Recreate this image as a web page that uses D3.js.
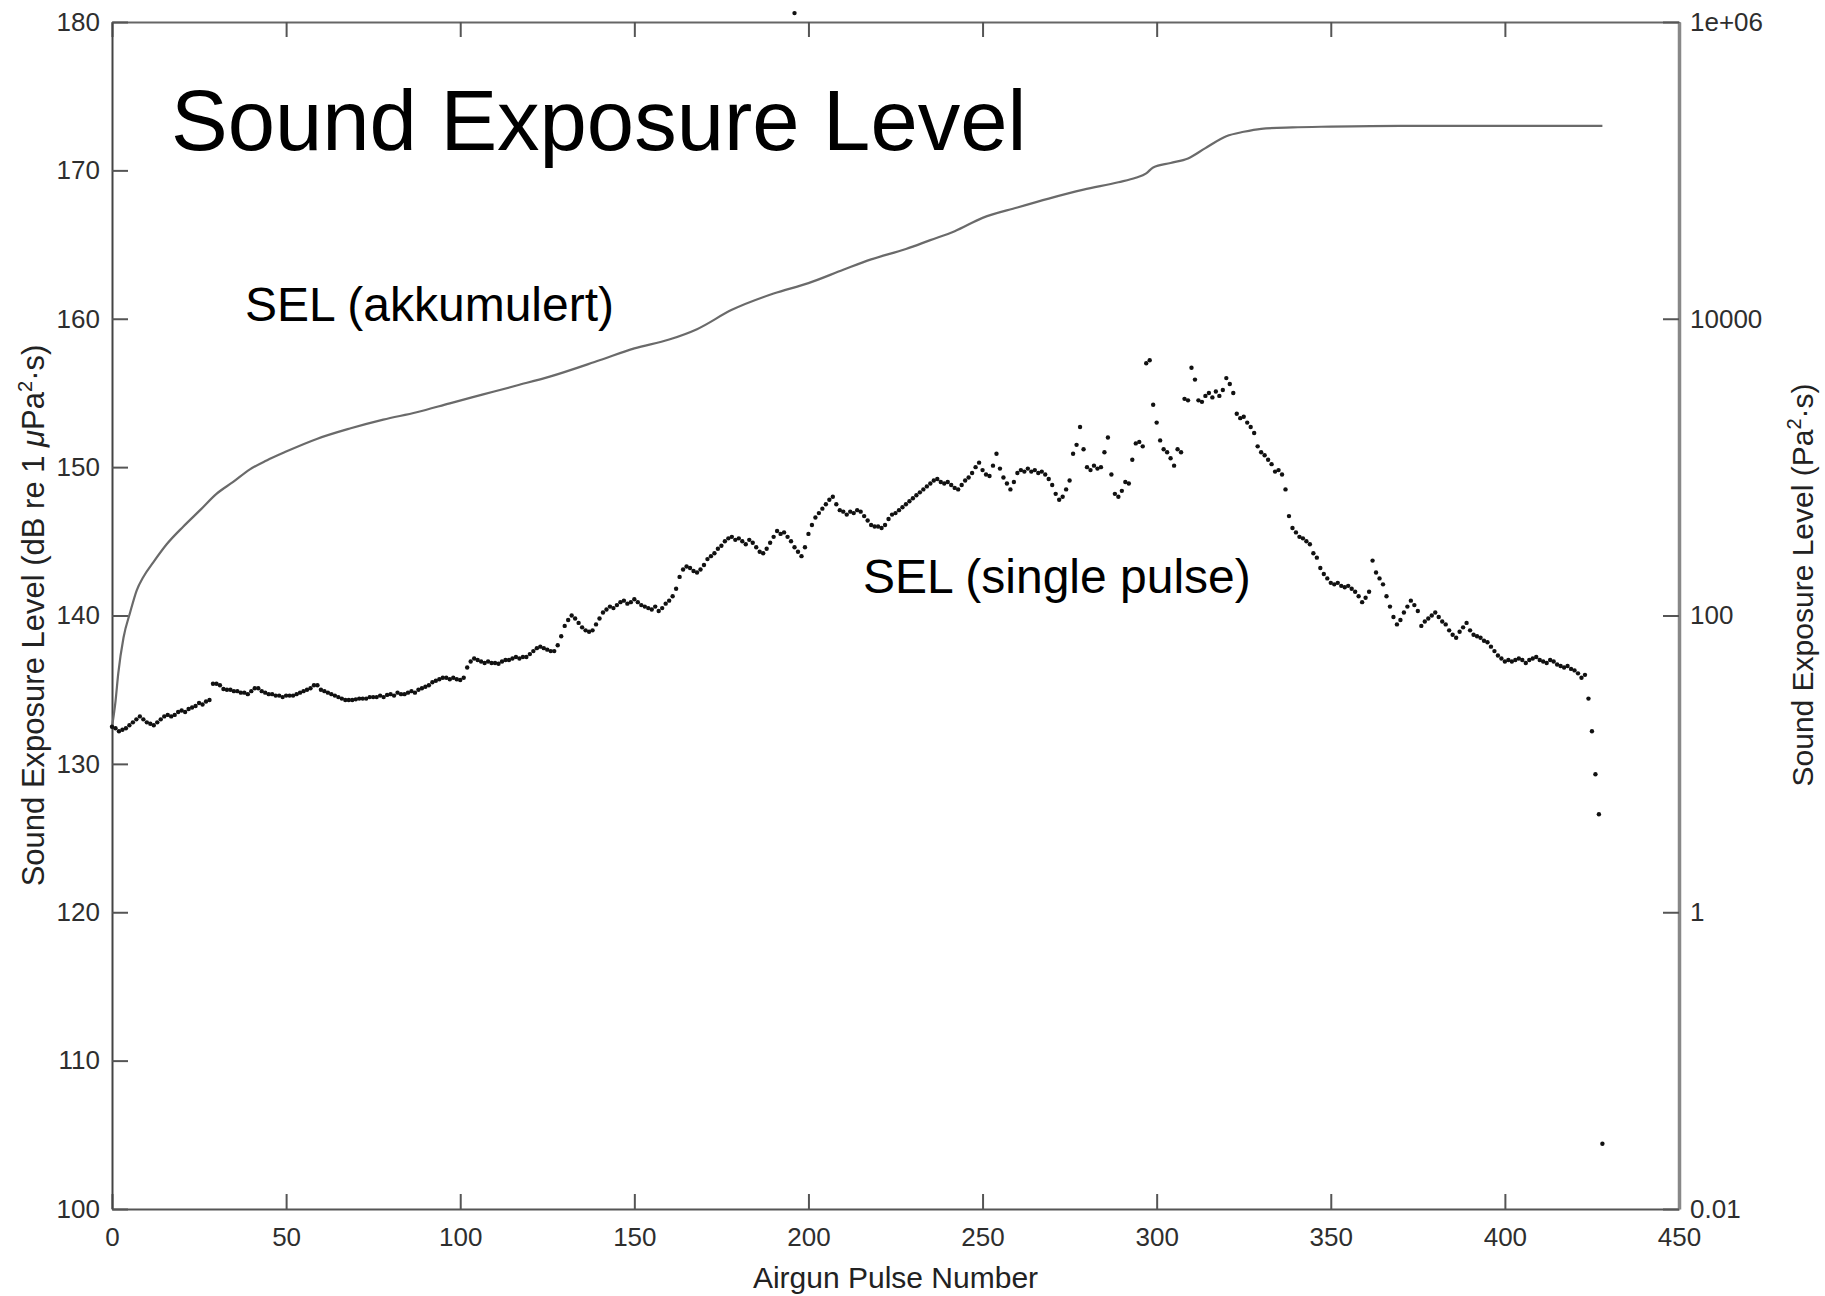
<!DOCTYPE html>
<html>
<head>
<meta charset="utf-8">
<script src="https://cdn.jsdelivr.net/npm/d3@7"></script>
<style>
  html, body { margin: 0; padding: 0; background: #fff; }
  svg { display: block; font-family: "Liberation Sans", Arial, sans-serif; }
</style>
</head>
<body>
<svg id="chart" width="1825" height="1296"></svg>
<script>
// ---------------- DATA ----------------
const xTicks = [0, 50, 100, 150, 200, 250, 300, 350, 400, 450];
const yTicks = [100, 110, 120, 130, 140, 150, 160, 170, 180];
const yRightTicks = [0.01, 1, 100, 10000, 1e6];
const yRightLabels = ["0.01", "1", "100", "10000", "1e+06"];

// single-pulse SEL, one value per airgun pulse (pulse number = index)
const singleSEL = [
  132.5,132.4,132.2,132.3,132.4,132.6,132.8,133.0,133.2,133.0,
  132.8,132.7,132.6,132.8,133.0,133.2,133.3,133.2,133.3,133.5,
  133.6,133.5,133.7,133.8,133.9,134.1,134.0,134.2,134.3,135.4,
  135.4,135.3,135.05,135.0,135.0,134.9,134.9,134.8,134.8,134.7,
  134.9,135.1,135.1,134.9,134.8,134.7,134.7,134.6,134.6,134.5,
  134.6,134.6,134.6,134.7,134.8,134.9,135.0,135.1,135.3,135.3,
  135.0,134.9,134.8,134.7,134.6,134.5,134.4,134.3,134.3,134.3,
  134.35,134.4,134.4,134.4,134.5,134.5,134.5,134.6,134.5,134.65,
  134.7,134.6,134.8,134.7,134.7,134.8,134.9,134.8,135.0,135.1,
  135.2,135.3,135.5,135.6,135.7,135.8,135.8,135.7,135.8,135.7,
  135.65,135.8,136.5,136.9,137.1,137.0,136.9,136.8,136.9,136.8,
  136.8,136.75,136.9,137.0,137.0,137.1,137.2,137.1,137.2,137.2,
  137.4,137.6,137.8,137.9,137.8,137.7,137.6,137.6,138.0,138.6,
  139.3,139.7,140.0,139.8,139.5,139.2,139.0,138.9,139.0,139.4,
  139.8,140.2,140.4,140.6,140.5,140.7,140.9,141.0,140.8,140.9,
  141.1,140.9,140.7,140.6,140.5,140.4,140.6,140.3,140.5,140.8,
  141.0,141.3,141.8,142.6,143.1,143.3,143.2,143.0,142.9,143.1,
  143.4,143.8,144.0,144.2,144.5,144.7,145.0,145.2,145.3,145.1,
  145.2,145.0,144.8,145.1,144.9,144.6,144.3,144.2,144.5,144.9,
  145.3,145.7,145.5,145.6,145.3,145.0,144.6,144.3,144.0,144.6,
  145.5,146.1,146.6,146.9,147.2,147.5,147.8,148.0,147.5,147.1,
  147.0,146.8,147.0,146.9,147.1,147.0,146.7,146.4,146.1,146.0,
  146.0,145.9,146.1,146.5,146.8,146.9,147.1,147.3,147.5,147.7,
  147.9,148.1,148.3,148.5,148.7,148.9,149.1,149.2,149.0,148.9,
  149.0,148.8,148.6,148.5,148.8,149.1,149.3,149.6,150.0,150.3,
  149.8,149.5,149.4,150.1,150.9,149.9,149.3,148.9,148.5,149.0,
  149.6,149.8,149.7,149.9,149.7,149.8,149.6,149.7,149.5,149.2,
  148.8,148.2,147.8,148.0,148.5,149.1,150.9,151.5,152.7,151.2,
  150.0,149.8,150.1,149.9,150.0,151.0,152.0,149.5,148.2,148.0,
  148.4,149.0,148.9,150.5,151.6,151.7,151.4,157.0,157.2,154.2,
  153.0,151.8,151.2,151.0,150.6,150.1,151.2,151.0,154.6,154.5,
  156.7,155.9,154.5,154.4,154.8,155.0,154.7,155.1,154.8,155.2,
  156.0,155.6,155.0,153.6,153.3,153.4,153.0,152.7,152.3,151.4,
  151.0,150.8,150.5,150.2,149.7,149.8,149.5,148.5,146.7,145.9,
  145.6,145.3,145.2,145.0,144.8,144.2,143.9,143.2,142.8,142.5,
  142.2,142.1,142.2,142.0,141.9,142.0,141.8,141.6,141.3,140.9,
  141.2,141.6,143.7,142.9,142.5,142.1,141.3,140.6,139.9,139.4,
  139.7,140.2,140.6,141.0,140.7,140.3,139.3,139.6,139.8,140.0,
  140.2,139.9,139.6,139.4,139.0,138.7,138.5,138.9,139.2,139.5,
  139.0,138.7,138.6,138.5,138.3,138.2,137.9,137.6,137.3,137.1,
  136.9,137.0,136.9,137.0,137.1,137.0,136.8,137.0,137.1,137.2,
  137.0,136.9,136.8,137.0,136.9,136.7,136.6,136.5,136.6,136.4,
  136.3,136.1,135.8,136.0,134.4,132.2,129.3,126.6,104.4
];
// stray point plotted just above the top axis
const strayPulse = [196];
const straySEL = [180.6];

// accumulated SEL curve, read at these pulse numbers
const cumPulse = [0,1,1.8,3.3,5.2,7.1,9,11.9,15.7,20.5,25.3,30,34.8,39.6,44.4,50,58.8,68.3,77.9,87.5,97,106.6,116.2,125.7,140,150,160,168,178,190,200,210,218,228,235,242,250,260,269,279,289,294,297,299,304,309,314,320,325,330,339,350,370,400,428];
const cumSEL = [132.5,134.2,136.1,138.5,140.2,141.7,142.6,143.6,144.8,146.0,147.1,148.2,149.0,149.85,150.45,151.05,151.9,152.6,153.2,153.7,154.3,154.9,155.5,156.1,157.2,158.0,158.6,159.3,160.6,161.7,162.4,163.3,164.0,164.7,165.3,165.9,166.8,167.5,168.1,168.7,169.2,169.5,169.8,170.2,170.5,170.8,171.5,172.3,172.6,172.8,172.9,172.95,173.0,173.0,173.0];

// ---------------- CHART ----------------
const svg = d3.select("#chart");
svg.append("rect").attr("width", 1825).attr("height", 1296).attr("fill", "#fff");

const L = 112, R = 1679, T = 22, B = 1209;
const x = d3.scaleLinear().domain([0, 450]).range([L, R]);
const y = d3.scaleLinear().domain([100, 180]).range([B, T]);
const yR = d3.scaleLog().domain([0.01, 1e6]).range([B, T]);

const tickFont = 26;
const labelColor = "#2e2e2e";

function styleAxis(g, lineColor, lineWidth) {
  g.select(".domain").attr("stroke", lineColor).attr("stroke-width", lineWidth);
  g.selectAll(".tick line").attr("stroke", "#555").attr("stroke-width", 2);
  g.selectAll(".tick text").attr("fill", labelColor).attr("font-size", tickFont)
    .attr("font-family", '"Liberation Sans", Arial, sans-serif');
}

// bottom
svg.append("g").attr("transform", `translate(0,${B})`)
  .call(d3.axisBottom(x).tickValues(xTicks).tickFormat(d3.format("d"))
    .tickSize(-15).tickSizeOuter(0).tickPadding(19))
  .call(g => styleAxis(g, "#555", 2));
// top
svg.append("g").attr("transform", `translate(0,${T})`)
  .call(d3.axisTop(x).tickValues(xTicks).tickFormat("").tickSize(-15).tickSizeOuter(0))
  .call(g => styleAxis(g, "#666", 2));
// left
svg.append("g").attr("transform", `translate(${L},0)`)
  .call(d3.axisLeft(y).tickValues(yTicks).tickFormat(d3.format("d"))
    .tickSize(-16).tickSizeOuter(0).tickPadding(12))
  .call(g => styleAxis(g, "#444", 2));
// right (log)
svg.append("g").attr("transform", `translate(${R},0)`)
  .call(d3.axisRight(yR).tickValues(yRightTicks)
    .tickFormat(d => yRightLabels[yRightTicks.indexOf(d)])
    .tickSize(-16).tickSizeOuter(0).tickPadding(11))
  .call(g => styleAxis(g, "#888", 3.5));

// accumulated SEL line
const cumData = cumPulse.map((p, i) => ({ p, v: cumSEL[i] }));
svg.append("path")
  .datum(cumData)
  .attr("fill", "none")
  .attr("stroke", "#6a6a6a")
  .attr("stroke-width", 2.2)
  .attr("d", d3.line().x(d => x(d.p)).y(d => y(d.v)).curve(d3.curveMonotoneX));

// single pulse dots
const dots = singleSEL.map((v, i) => ({ p: i, v }))
  .concat(strayPulse.map((p, i) => ({ p, v: straySEL[i] })));
svg.append("g").selectAll("circle")
  .data(dots).join("circle")
  .attr("cx", d => x(d.p)).attr("cy", d => y(d.v))
  .attr("r", 2.2).attr("fill", "#111");

// text labels
svg.append("text").attr("x", 171).attr("y", 150)
  .attr("font-size", 85).attr("fill", "#000").text("Sound Exposure Level");
svg.append("text").attr("x", 245).attr("y", 321)
  .attr("font-size", 48).attr("fill", "#000").text("SEL (akkumulert)");
svg.append("text").attr("x", 863).attr("y", 593)
  .attr("font-size", 48).attr("fill", "#000").text("SEL (single pulse)");

// axis titles
svg.append("text").attr("x", (L + R) / 2).attr("y", 1288)
  .attr("text-anchor", "middle").attr("font-size", 30).attr("fill", "#222")
  .text("Airgun Pulse Number");

const yl = svg.append("text")
  .attr("transform", `translate(44,${(T + B) / 2}) rotate(-90)`)
  .attr("text-anchor", "middle").attr("font-size", 31).attr("fill", "#222");
yl.append("tspan").text("Sound Exposure Level (dB re 1 ");
yl.append("tspan").attr("font-style", "italic").text("\u03BC");
yl.append("tspan").text("Pa");
yl.append("tspan").attr("dy", -12).attr("font-size", 20).text("2");
yl.append("tspan").attr("dy", 12).text("\u00B7s)");

const yr = svg.append("text")
  .attr("transform", `translate(1813,585) rotate(-90)`)
  .attr("text-anchor", "middle").attr("font-size", 30).attr("fill", "#222");
yr.append("tspan").text("Sound Exposure Level (Pa");
yr.append("tspan").attr("dy", -12).attr("font-size", 20).text("2");
yr.append("tspan").attr("dy", 12).text("\u00B7s)");
</script>
</body>
</html>
